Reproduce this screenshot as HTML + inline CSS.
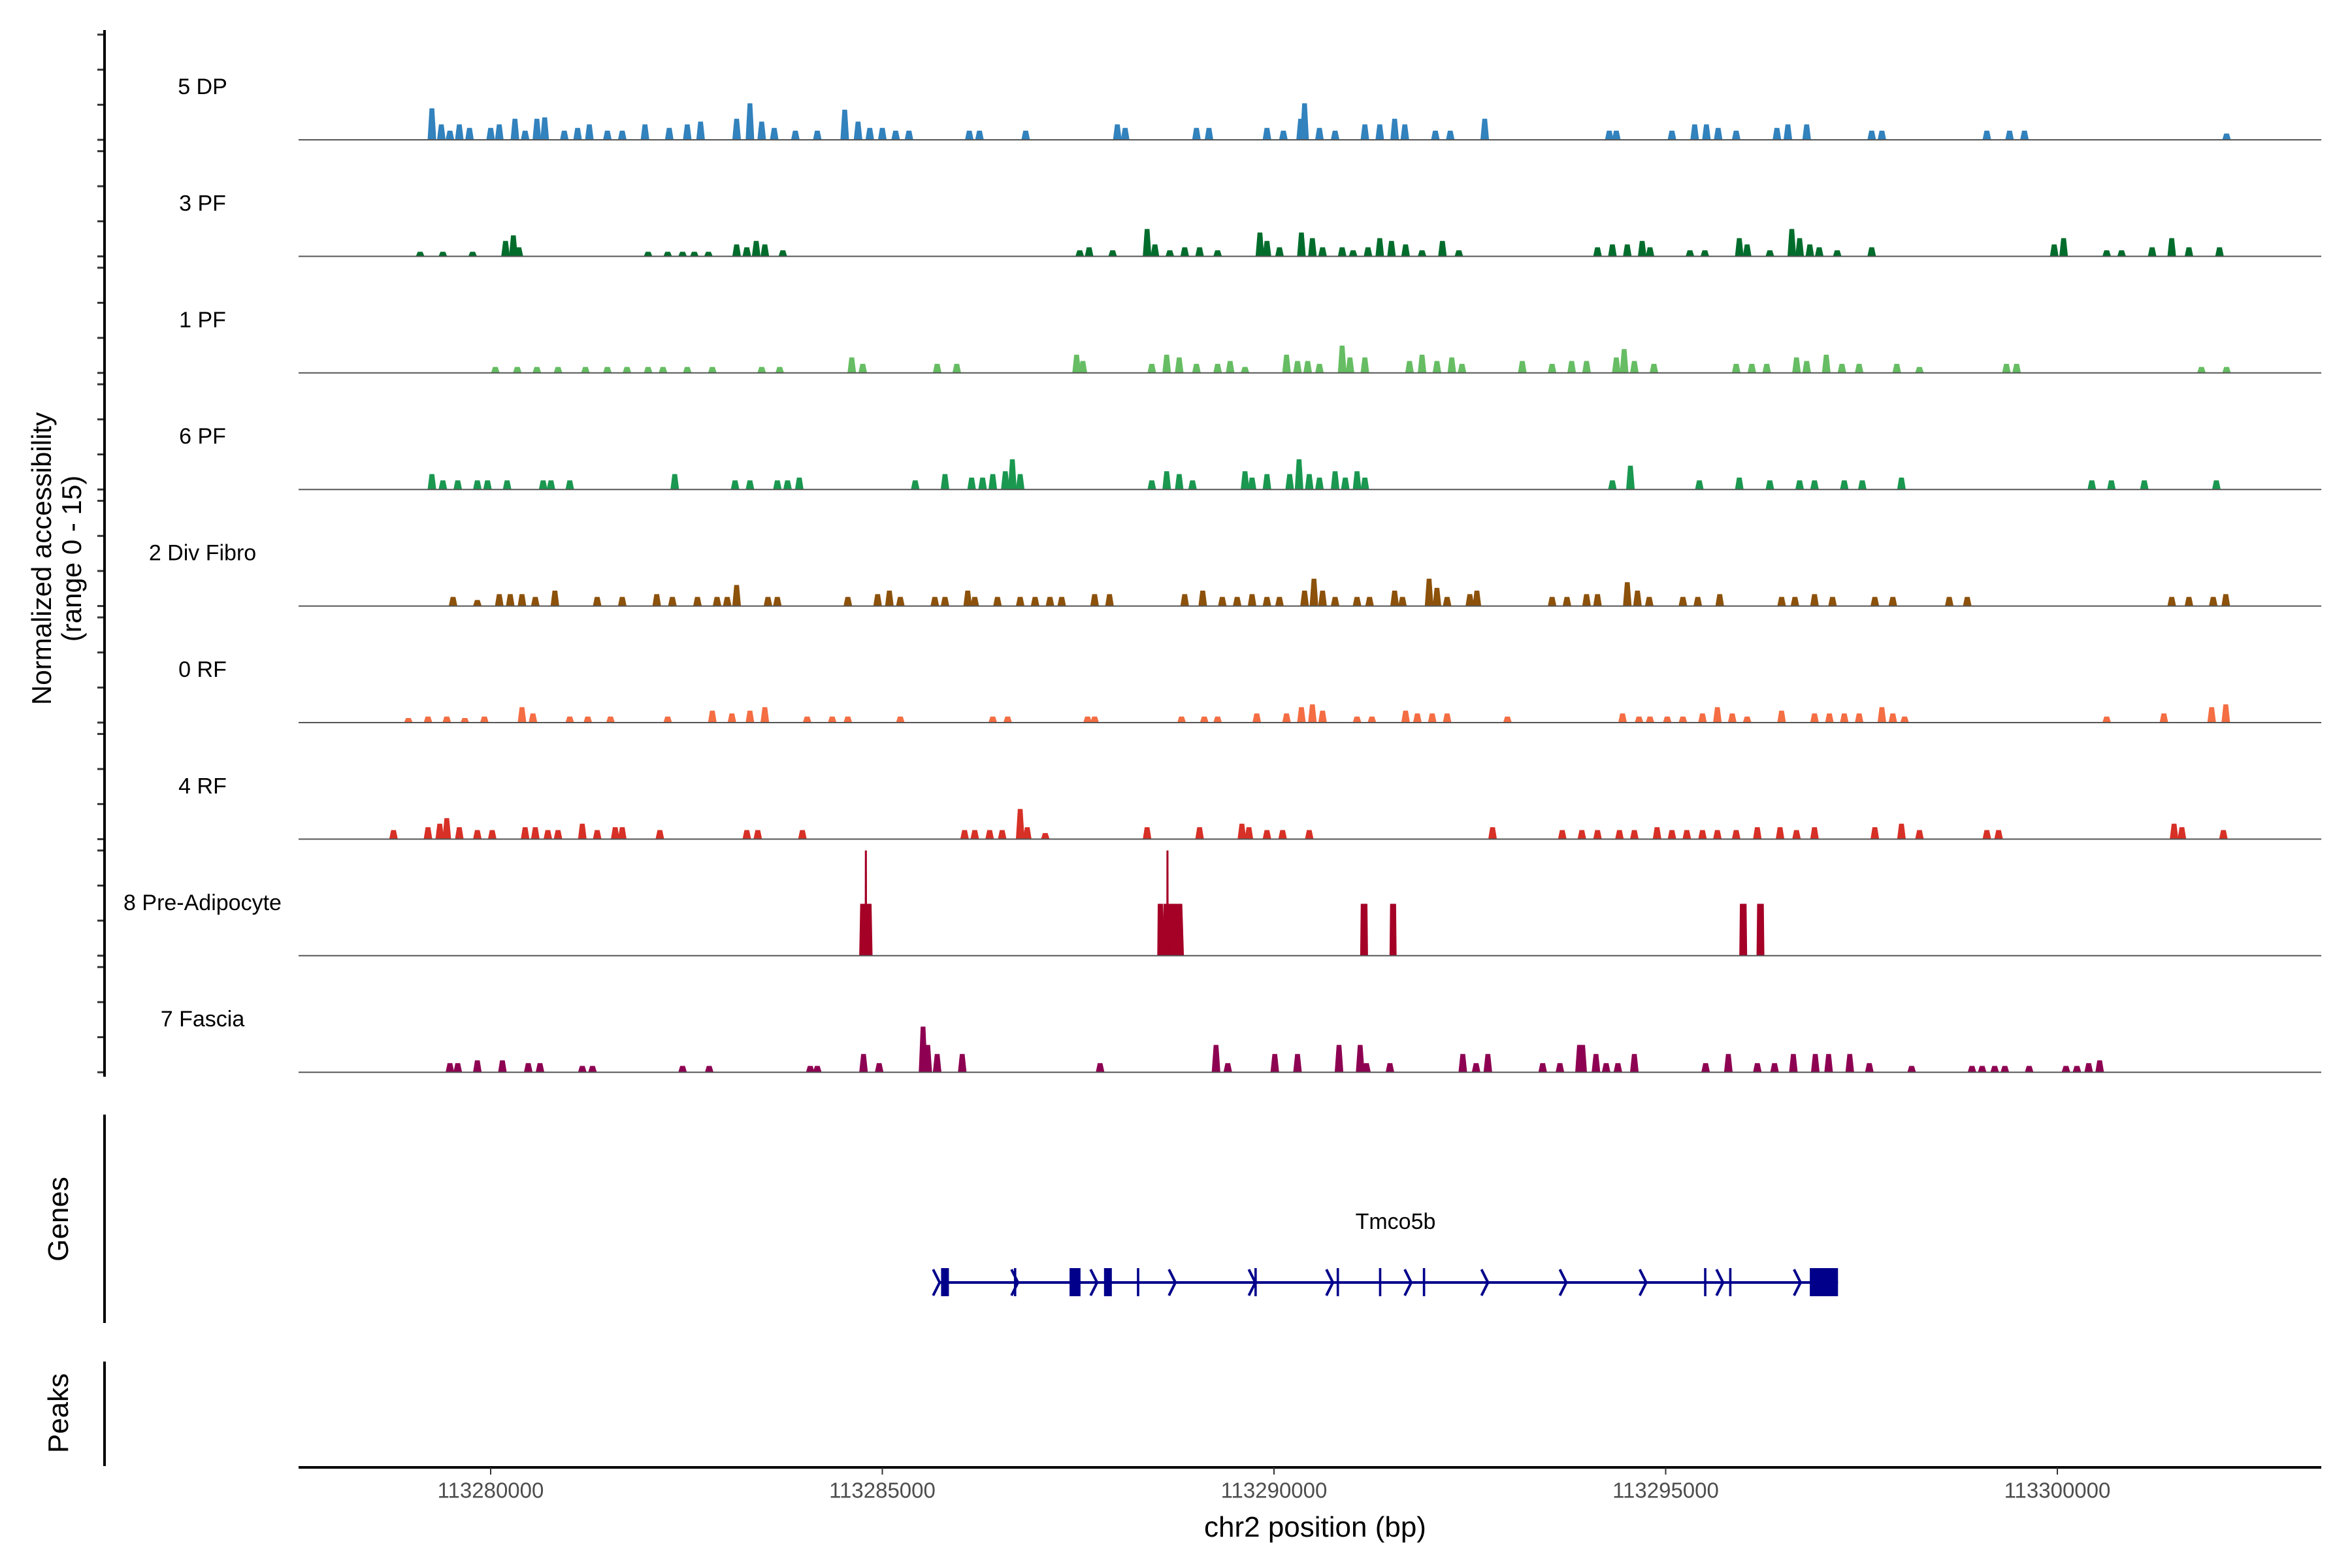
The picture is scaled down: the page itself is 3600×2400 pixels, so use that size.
<!DOCTYPE html>
<html><head><meta charset="utf-8"><style>
html,body{margin:0;padding:0;background:#fff;}
svg{display:block;font-family:"Liberation Sans",Arial,sans-serif;}
</style></head><body>
<svg id="chart" width="3600" height="2400" viewBox="0 0 3600 2400" xmlns="http://www.w3.org/2000/svg">
<g id="tracks"></g>
<g id="genes"></g>
<g id="axes"></g>
<text transform="translate(78,855) rotate(-90)" text-anchor="middle" font-size="42" fill="#000">Normalized accessibility</text>
<text transform="translate(124,855) rotate(-90)" text-anchor="middle" font-size="42" fill="#000">(range 0 - 15)</text>
<text transform="translate(104,1866) rotate(-90)" text-anchor="middle" font-size="44" fill="#000">Genes</text>
<text transform="translate(104,2163) rotate(-90)" text-anchor="middle" font-size="44" fill="#000">Peaks</text>
<text x="2013" y="2352" text-anchor="middle" font-size="44" fill="#000">chr2 position (bp)</text>
<text x="2136" y="1881" text-anchor="middle" font-size="34" fill="#000">Tmco5b</text>
</svg>
<script>
// genomic positions in kb relative to 113,280,000 bp; heights in normalized accessibility units
const trackNames = ["5 DP","3 PF","1 PF","6 PF","2 Div Fibro","0 RF","4 RF","8 Pre-Adipocyte","7 Fascia"];
const trackColors = ["#3182BD","#006D2C","#66BD63","#1A9850","#8C510A","#F46D43","#D73027","#A50026","#8E0152"];

const dpPos = [-0.75,-0.63,-0.52,-0.40,-0.27,0,0.11,0.31,0.44,0.59,0.69,0.94,1.11,1.26,1.49,1.68,1.97,2.28,2.51,2.68,3.14,3.31,3.46,3.62,3.89,4.17,4.52,4.69,4.84,5.00,5.17,5.34,6.11,6.24,6.83,8.00,8.10,9.01,9.17,9.91,10.12,10.34,10.39,10.58,10.78,11.16,11.35,11.54,11.67,12.06,12.25,12.69,14.28,14.37,15.08,15.37,15.52,15.67,15.90,16.42,16.56,16.80,17.63,17.76,19.10,19.39,19.58,22.16];
const dpH = [4.5,2.2,1.3,2.2,1.7,1.7,2.2,3.0,1.3,3.0,3.2,1.3,1.7,2.2,1.3,1.3,2.2,1.7,2.2,2.6,3.0,5.2,2.6,1.7,1.3,1.3,4.3,2.6,1.7,1.7,1.3,1.3,1.3,1.3,1.3,2.2,1.7,1.7,1.7,1.7,1.3,3.0,5.2,1.7,1.3,2.2,2.2,3.0,2.2,1.3,1.3,3.0,1.3,1.3,1.3,2.2,2.2,1.7,1.3,1.7,2.2,2.2,1.3,1.3,1.3,1.3,1.3,0.9];

const pf3Pos = [-0.90,-0.61,-0.23,0.19,0.29,0.36,2.01,2.26,2.45,2.60,2.78,3.14,3.27,3.39,3.50,3.73,7.52,7.64,7.94,8.38,8.48,8.67,8.86,9.05,9.28,9.82,9.91,10.07,10.35,10.49,10.62,10.87,11.01,11.20,11.35,11.50,11.68,11.89,12.15,12.36,14.13,14.32,14.51,14.70,14.80,15.31,15.50,15.94,16.04,16.33,16.61,16.71,16.84,16.96,17.19,17.63,19.96,20.08,20.63,20.82,21.21,21.46,21.68,22.07];
const pf3H = [0.65,0.65,0.65,2.2,3.0,1.3,0.65,0.65,0.65,0.65,0.65,1.7,1.3,2.2,1.7,0.86,0.86,1.3,0.86,3.9,1.7,0.86,1.3,1.3,0.86,3.4,2.2,1.3,3.4,2.6,1.3,1.3,0.86,1.3,2.6,2.2,1.7,0.86,2.2,0.86,1.3,1.7,1.7,2.2,1.3,0.86,0.86,2.6,1.7,0.86,3.9,2.6,1.7,1.3,0.86,1.3,1.7,2.6,0.86,0.86,1.3,2.6,1.3,1.3];

const pf1Pos = [0.06,0.34,0.59,0.86,1.21,1.49,1.74,2.01,2.20,2.51,2.83,3.46,3.69,4.61,4.75,5.70,5.95,7.48,7.56,8.44,8.63,8.79,9.01,9.28,9.44,9.63,10.16,10.30,10.43,10.58,10.87,10.97,11.16,11.73,11.89,12.08,12.27,12.40,13.17,13.55,13.80,13.99,14.37,14.47,14.60,14.85,15.90,16.10,16.29,16.67,16.80,17.05,17.25,17.47,17.95,18.24,19.35,19.48,21.84,22.16];
const pf1H = [0.86,0.86,0.86,0.86,0.86,0.86,0.86,0.86,0.86,0.86,0.86,0.86,0.86,2.2,1.3,1.3,1.3,2.6,1.7,1.3,2.6,2.2,1.3,1.3,1.7,0.86,2.6,1.7,1.7,1.3,3.9,2.2,2.2,1.7,2.6,1.7,2.2,1.3,1.7,1.3,1.7,1.7,2.2,3.4,1.7,1.3,1.3,1.3,1.3,2.2,1.7,2.6,1.3,1.3,1.3,0.86,1.3,1.3,0.86,0.86];

const pf6Pos = [-0.75,-0.61,-0.42,-0.17,-0.04,0.21,0.67,0.77,1.01,2.35,3.12,3.31,3.66,3.79,3.94,5.42,5.80,6.14,6.28,6.41,6.57,6.66,6.76,8.44,8.63,8.79,8.96,9.63,9.72,9.91,10.20,10.32,10.45,10.58,10.78,10.91,11.06,11.16,14.32,14.55,15.43,15.94,16.33,16.71,16.90,17.28,17.51,18.01,20.44,20.69,21.11,22.03];
const pf6H = [2.2,1.3,1.3,1.3,1.3,1.3,1.3,1.3,1.3,2.2,1.3,1.3,1.3,1.3,1.7,1.3,2.2,1.7,1.7,2.2,2.6,4.3,2.2,1.3,2.6,2.2,1.3,2.6,1.7,2.2,2.2,4.3,2.2,1.7,2.6,1.7,2.6,1.7,1.3,3.4,1.3,1.7,1.3,1.3,1.3,1.3,1.3,1.7,1.3,1.3,1.3,1.3];

const divPos = [-0.48,-0.17,0.11,0.25,0.40,0.57,0.82,1.36,1.68,2.12,2.32,2.64,2.89,3.02,3.14,3.54,3.66,4.56,4.94,5.09,5.23,5.67,5.80,6.09,6.18,6.47,6.76,6.95,7.14,7.29,7.71,7.90,8.86,9.09,9.34,9.53,9.72,9.91,10.07,10.39,10.51,10.62,10.78,11.06,11.22,11.54,11.64,11.98,12.08,12.21,12.50,12.59,13.55,13.74,13.99,14.13,14.51,14.64,14.79,15.22,15.41,15.69,16.48,16.65,16.90,17.13,17.67,17.90,18.62,18.85,21.46,21.68,21.99,22.15];
const divH = [1.3,0.86,1.7,1.7,1.7,1.3,2.2,1.3,1.3,1.7,1.3,1.3,1.3,1.3,3.0,1.3,1.3,1.3,1.7,2.2,1.3,1.3,1.3,2.2,1.3,1.3,1.3,1.3,1.3,1.3,1.7,1.7,1.7,2.2,1.3,1.3,1.7,1.3,1.3,2.2,3.9,2.2,1.3,1.3,1.3,2.2,1.3,3.9,2.6,1.3,1.7,2.2,1.3,1.3,1.7,1.7,3.4,2.2,1.3,1.3,1.3,1.7,1.3,1.3,1.7,1.3,1.3,1.3,1.3,1.3,1.3,1.3,1.3,1.7];

const rf0Pos = [-1.05,-0.80,-0.56,-0.33,-0.08,0.40,0.54,1.01,1.24,1.53,2.26,2.83,3.08,3.31,3.50,4.04,4.36,4.56,5.23,6.41,6.60,7.62,7.71,8.82,9.11,9.28,9.78,10.16,10.35,10.49,10.62,11.06,11.25,11.68,11.83,12.02,12.21,12.98,14.45,14.66,14.80,15.02,15.22,15.47,15.66,15.85,16.04,16.48,16.90,17.09,17.28,17.47,17.76,17.90,18.05,20.63,21.36,21.97,22.15];
const rf0H = [0.65,0.86,0.86,0.65,0.86,2.2,1.3,0.86,0.86,0.86,0.86,1.7,1.3,1.7,2.2,0.86,0.86,0.86,0.86,0.86,0.86,0.86,0.86,0.86,0.86,0.86,1.3,1.3,2.2,2.6,1.7,0.86,0.86,1.7,1.3,1.3,1.3,0.86,1.3,0.86,0.86,0.86,0.86,1.3,2.2,1.3,0.86,1.7,1.3,1.3,1.3,1.3,2.2,1.3,0.86,0.86,1.3,2.2,2.6];

const rf4Pos = [-1.24,-0.80,-0.65,-0.56,-0.40,-0.17,0.02,0.44,0.57,0.73,0.86,1.17,1.36,1.59,1.68,2.16,3.27,3.41,3.98,6.05,6.18,6.37,6.53,6.76,6.85,7.08,8.38,9.05,9.59,9.68,9.91,10.11,10.45,12.79,13.68,13.93,14.13,14.41,14.60,14.89,15.08,15.27,15.47,15.66,15.90,16.17,16.46,16.67,16.90,17.67,18.01,18.24,19.10,19.25,21.49,21.59,22.12];
const rf4H = [1.3,1.7,2.2,3.0,1.7,1.3,1.3,1.7,1.7,1.3,1.3,2.2,1.3,1.7,1.7,1.3,1.3,1.3,1.3,1.3,1.3,1.3,1.3,4.3,1.7,0.86,1.7,1.7,2.2,1.7,1.3,1.3,1.3,1.7,1.3,1.3,1.3,1.3,1.3,1.7,1.3,1.3,1.3,1.3,1.3,1.7,1.7,1.3,1.7,1.7,2.2,1.3,1.3,1.3,2.2,1.7,1.3];

const preAdPos = [4.79,4.79,8.55,8.71,8.64,11.15,11.52,15.99,16.21];
const preAdH = [7.4,15,7.4,7.4,15,7.4,7.4,7.4,7.4];
const preAdW = [0.17,0.03,0.08,0.28,0.03,0.10,0.09,0.10,0.10];

const fasciaPos = [-0.52,-0.42,-0.17,0.15,0.48,0.63,1.17,1.30,2.45,2.79,4.08,4.17,4.76,4.96,5.52,5.58,5.70,6.02,7.78,9.26,9.41,10.01,10.30,10.83,11.10,11.18,11.48,12.41,12.58,12.73,13.43,13.65,13.90,13.94,14.11,14.24,14.39,14.60,15.51,15.80,16.17,16.39,16.63,16.91,17.08,17.35,17.60,18.14,18.91,19.04,19.20,19.33,19.64,20.11,20.25,20.40,20.54];
const fasciaH = [1.3,1.3,1.7,1.7,1.3,1.3,0.9,0.9,0.9,0.9,0.9,0.9,2.6,1.3,6.5,3.9,2.6,2.6,1.3,3.9,1.3,2.6,2.6,3.9,3.9,1.3,1.3,2.6,1.3,2.6,1.3,1.3,3.9,3.9,2.6,1.3,1.3,2.6,1.3,2.6,1.3,1.3,2.6,2.6,2.6,2.6,1.3,0.9,0.9,0.9,0.9,0.9,0.9,0.9,0.9,1.3,1.7];

const trackPos = [dpPos,pf3Pos,pf1Pos,pf6Pos,divPos,rf0Pos,rf4Pos,preAdPos,fasciaPos];
const trackH = [dpH,pf3H,pf1H,pf6H,divH,rf0H,rf4H,preAdH,fasciaH];

const xTicks = [113280000,113285000,113290000,113295000,113300000];
const xTickLabels = ["113280000","113285000","113290000","113295000","113300000"];

const exonStart = [5.75,6.68,7.39,7.83,8.25,9.75,10.80,11.34,11.90,15.49,15.81,16.84];
const exonEnd = [5.85,6.71,7.53,7.93,8.28,9.78,10.83,11.37,11.93,15.52,15.84,17.20];
const geneStart = 5.72, geneEnd = 17.2;
const arrowPos = [5.69,6.69,7.70,8.70,9.72,10.71,11.71,12.69,13.69,14.71,15.69,16.68];

const NS="http://www.w3.org/2000/svg";
const ORIGIN=113280000;
const PX_PER_KB=119.9, X0=751;
const XL=457, XR=3553;
const xs = kb => X0 + kb*PX_PER_KB;
const xbp = bp => xs((bp-ORIGIN)/1000);
const UNIT=161/15;
const base = i => 214 + i*178.4;
const ys = (i,v) => base(i) - v*UNIT;
function mk(tag,attrs,parent){const e=document.createElementNS(NS,tag);for(const k in attrs)e.setAttribute(k,attrs[k]);parent.appendChild(e);return e;}

const gT=document.getElementById('tracks');
const gA=document.getElementById('axes');
const gG=document.getElementById('genes');

trackNames.forEach((name,i)=>{
  const g=mk('g',{},gT);
  
  
  const lab=mk('text',{x:310,y:base(i)-79,'text-anchor':'middle','dominant-baseline':'middle','font-size':34,fill:'#000'},g);
  lab.textContent=name;
  
  
  const pos=trackPos[i], hs=trackH[i];
  pos.forEach((p,j)=>{
    const h=hs[j];
    const w=(i===7)?preAdW[j]:0.11;
    const taper=(i===7)?0.85:0.55;
    const x1=xs(p-w/2), x2=xs(p+w/2), cx=xs(p), tw=(x2-x1)*taper/2;
    const yb=base(i), yt=ys(i,h);
    const poly=mk('polygon',{points:`${x1},${yb} ${cx-tw},${yt} ${cx+tw},${yt} ${x2},${yb}`,fill:trackColors[i]},g);
    
    
  });
  const bl=mk('line',{x1:XL,x2:XR,y1:base(i),y2:base(i),stroke:'#555','stroke-width':2},g);
  
  
  for(let k=0;k<=3;k++){
    const t=mk('line',{x1:149,x2:160,y1:ys(i,k*5),y2:ys(i,k*5),stroke:'#333','stroke-width':3},gA);
    
    
  }
});

let l=mk('line',{x1:160,x2:160,y1:46,y2:1648,stroke:'#000','stroke-width':4},gA);


l=mk('line',{x1:160,x2:160,y1:1706,y2:2025,stroke:'#000','stroke-width':4},gA);


l=mk('line',{x1:160,x2:160,y1:2084,y2:2244,stroke:'#000','stroke-width':4},gA);


l=mk('line',{x1:XL,x2:XR,y1:2246,y2:2246,stroke:'#000','stroke-width':4},gA);


xTicks.forEach((t,j)=>{
  const x=xbp(t);
  const tk=mk('line',{x1:x,x2:x,y1:2246,y2:2257,stroke:'#333','stroke-width':2},gA);
  
  
  const tl=mk('text',{x:x,y:2284,'text-anchor':'middle','dominant-baseline':'middle','font-size':33,fill:'#4d4d4d'},gA);
  tl.textContent=xTickLabels[j];
  
  
});

const GY=1963;
l=mk('line',{x1:xs(geneStart),x2:xs(geneEnd),y1:GY,y2:GY,stroke:'#00008B','stroke-width':4},gG);


arrowPos.forEach(p=>{
  const x=xs(p);
  const a=mk('polyline',{points:`${x-5},${GY-20} ${x+5},${GY} ${x-5},${GY+20}`,fill:'none',stroke:'#00008B','stroke-width':4},gG);
  
  
});
exonStart.forEach((s,j)=>{
  const x1=xs(s), x2=xs(exonEnd[j]);
  const r=mk('rect',{x:x1,y:1941,width:Math.max(x2-x1,3),height:43,fill:'#00008B'},gG);
  
  
});
</script>
</body></html>
